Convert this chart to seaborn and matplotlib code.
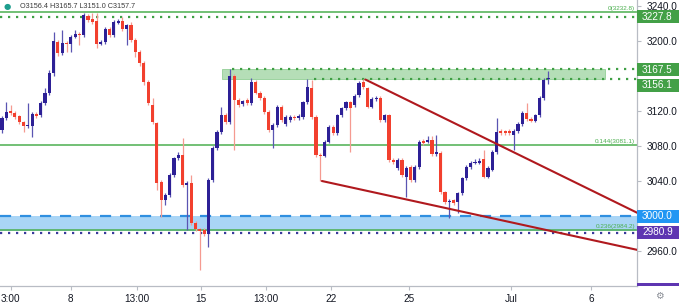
import matplotlib
matplotlib.use("Agg")
import matplotlib.pyplot as plt
import seaborn as sns
import numpy as np
import pandas as pd
from matplotlib.patches import Rectangle

# ---------------- data ----------------
opens = [3098, 3112, 3120, 3118, 3114, 3107, 3103, 3103, 3117, 3115,
         3129, 3141, 3163, 3199, 3186, 3198, 3197, 3205, 3208, 3207,
         3229, 3225, 3223, 3197, 3199, 3214, 3207, 3221, 3223, 3214,
         3218, 3201, 3187, 3175, 3153, 3127, 3106, 3039, 3018, 3024,
         3047, 3066, 3070, 3035, 3038, 2992, 2985, 2984, 2979, 3041,
         3078, 3096, 3115, 3107, 3160, 3133, 3128, 3133, 3129, 3153,
         3141, 3135, 3119, 3098, 3104, 3125, 3105, 3110, 3113, 3112,
         3113, 3130, 3146, 3113, 3070, 3069, 3085, 3102, 3095, 3115,
         3123, 3130, 3127, 3138, 3153, 3146, 3125, 3134, 3135, 3110,
         3115, 3064, 3055, 3064, 3045, 3056, 3041, 3056, 3086, 3085,
         3087, 3071, 3072, 3027, 3016, 3018, 3016, 3026, 3043, 3056,
         3061, 3061, 3065, 3045, 3053, 3073, 3097, 3097, 3097, 3093,
         3097, 3105, 3118, 3111, 3109, 3115, 3135, 3156.4]
closes = [3112, 3119, 3118, 3113, 3107, 3103, 3104, 3117, 3114, 3129,
          3141, 3163, 3200, 3186, 3198, 3197, 3205, 3208, 3207, 3230,
          3224, 3222, 3197, 3199, 3214, 3207, 3222, 3223, 3214, 3218,
          3201, 3187, 3175, 3153, 3129, 3107, 3038, 3018, 3024, 3047,
          3066, 3070, 3035, 3038, 2992, 2985, 2983, 2979, 3041, 3078,
          3096, 3115, 3107, 3160, 3133, 3127, 3131, 3129, 3153, 3141,
          3135, 3119, 3098, 3104, 3125, 3110, 3113, 3113, 3112, 3114,
          3130, 3147, 3113, 3070, 3069, 3085, 3102, 3095, 3115, 3123,
          3130, 3123, 3137, 3152, 3147, 3125, 3134, 3135, 3110, 3115,
          3064, 3062, 3064, 3047, 3055, 3041, 3056, 3085, 3083, 3087,
          3071, 3073, 3027, 3016, 3017, 3015, 3026, 3043, 3056, 3061,
          3062, 3063, 3045, 3055, 3073, 3096, 3095, 3095, 3095, 3097,
          3105, 3118, 3111, 3109, 3115, 3135, 3156, 3157.7]
highs = [3114, 3130, 3127, 3120, 3116, 3109, 3129, 3119, 3119, 3131,
         3146, 3167, 3210, 3201, 3213, 3200, 3207, 3213, 3210, 3232,
         3231, 3232, 3232, 3201, 3216, 3216, 3224, 3225, 3227, 3220,
         3222, 3203, 3190, 3177, 3155, 3135, 3108, 3041, 3026, 3049,
         3068, 3073, 3089, 3040, 3047, 2994, 2986, 2986, 3043, 3080,
         3098, 3125, 3118, 3168, 3162, 3135, 3133, 3135, 3158, 3155,
         3143, 3137, 3121, 3106, 3127, 3127, 3115, 3115, 3115, 3117,
         3132, 3157, 3155, 3115, 3072, 3087, 3104, 3104, 3117, 3125,
         3132, 3132, 3139, 3154, 3157, 3148, 3136, 3137, 3137, 3117,
         3117, 3066, 3066, 3066, 3057, 3058, 3058, 3087, 3088, 3092,
         3091, 3093, 3074, 3029, 3019, 3020, 3028, 3045, 3058, 3063,
         3065, 3066, 3075, 3057, 3075, 3112, 3099, 3098, 3099, 3099,
         3107, 3120, 3129, 3113, 3117, 3137, 3158, 3165.7]
lows = [3095, 3110, 3116, 3111, 3105, 3096, 3101, 3090, 3112, 3113,
        3127, 3138, 3160, 3183, 3184, 3187, 3187, 3203, 3195, 3205,
        3222, 3220, 3192, 3195, 3197, 3205, 3205, 3219, 3212, 3195,
        3199, 3182, 3172, 3150, 3127, 3105, 3030, 2999, 3013, 3022,
        3045, 3064, 3033, 2984, 2990, 2983, 2938, 2977, 2965, 3039,
        3076, 3094, 3105, 3105, 3075, 3125, 3126, 3127, 3127, 3139,
        3133, 3117, 3096, 3078, 3102, 3108, 3103, 3108, 3110, 3110,
        3111, 3128, 3111, 3068, 3040, 3067, 3083, 3093, 3093, 3113,
        3121, 3073, 3125, 3136, 3145, 3123, 3123, 3132, 3108, 3108,
        3062, 3060, 3053, 3045, 3022, 3039, 3039, 3054, 3081, 3083,
        3069, 3069, 3025, 3014, 2998, 3013, 3003, 3024, 3041, 3054,
        3059, 3059, 3043, 3043, 3051, 3071, 3093, 3093, 3093, 3075,
        3095, 3103, 3109, 3107, 3107, 3113, 3133, 3151.0]

xtick_pos = [2.0, 16, 31.4, 46.3, 61.4, 76.5, 94.7, 118.4, 137]
xtick_labels = ["3:00", "8", "13:00", "15", "13:00", "22", "25", "Jul", "6"]
ytick_vals = [2960, 3040, 3080, 3120, 3200, 3240]

fib_levels = [3232.8, 3081.1, 2984.2]
fib_labels = ["0(3232.8)", "0.144(3081.1)", "0.236(2984.2)"]
resist_top, resist_bot = 3167.5, 3156.1
resist_start = 51.2
resist_end = 140.2
support_top, support_bot = 3000.0, 2982.5
dotted_high = 3227.8
dotted_low = 2980.9
trend_upper_x = [84.5, 148.0]
trend_upper_y = [3156, 3003]
trend_lower_x = [74.4, 148.0]
trend_lower_y = [3040, 2961]
header = "O3156.4 H3165.7 L3151.0 C3157.7"

# ---------------- style ----------------
sns.set_theme(style="white")
plt.rcParams['font.family'] = ['Liberation Sans', 'DejaVu Sans']

W, H = 679, 305
fig = plt.figure(figsize=(W / 100, H / 100), dpi=100)
fig.patch.set_facecolor("white")
ax = fig.add_axes([0, 19 / H, 637 / W, 286 / H])
ax.set_facecolor("white")

XMIN, XMAX = -0.465, 147.67
YMIN, YMAX = 2920, 3246.9
ax.set_xlim(XMIN, XMAX)
ax.set_ylim(YMIN, YMAX)

UP = "#2d2096"
DOWN = "#f2402e"
GREEN = "#4caf50"

# zones
ax.axhspan(support_bot, support_top, color="#a9d5f6", lw=0, zorder=1)
ax.add_patch(Rectangle((resist_start, resist_bot), resist_end - resist_start,
                       resist_top - resist_bot, fc="#b5deb7", ec="#93cf96",
                       lw=0.6, zorder=1))

# level lines
for lv in fib_levels:
    ax.axhline(lv, color=GREEN, lw=1.1, zorder=2)
ax.axhline(dotted_high, color="#3f9f45", lw=1.6, ls=(0, (1.0, 2.6)), zorder=2)
ax.plot([resist_start + 2.3, XMAX], [resist_top, resist_top], color="#3f9f45",
        lw=1.6, ls=(0, (1.0, 2.6)), zorder=2)
ax.plot([72.5, XMAX], [resist_bot, resist_bot], color="#3f9f45",
        lw=1.6, ls=(0, (1.0, 2.6)), zorder=2)
ax.axhline(support_top, color="#2f8fe0", lw=1.6, ls=(0, (5, 4)), zorder=2)
ax.axhline(dotted_low, color="#3a3a9c", lw=1.6, ls=(0, (1.0, 2.6)), zorder=2)

# fib labels
for lv, lab in zip(fib_levels, fib_labels):
    ax.text(147.2, lv + 1.0, lab, fontsize=4.6, color=GREEN, ha="right",
            va="bottom", zorder=6)

# candles
df = pd.DataFrame({"idx": np.arange(len(opens)), "open": opens, "high": highs,
                   "low": lows, "close": closes})
df["up"] = df["close"] >= df["open"]
for up, col, wcol in [(True, UP, "#5a55b2"), (False, DOWN, "#f59a90")]:
    d = df[df["up"] == up]
    ax.vlines(d["idx"], d["low"], d["high"], color=wcol, lw=0.9, zorder=3)
    lo = np.minimum(d["open"], d["close"])
    hgt = np.maximum(np.abs(d["close"] - d["open"]), 1.1)
    ax.bar(d["idx"], hgt, bottom=lo, width=0.74, color=col, lw=0, zorder=4)

# trend lines
sns.lineplot(x=trend_upper_x, y=trend_upper_y, ax=ax, color="#b0191e", lw=1.5,
             zorder=5)
sns.lineplot(x=trend_lower_x, y=trend_lower_y, ax=ax, color="#b0191e", lw=1.5,
             zorder=5)

# axes cosmetics
for s in ["top", "left"]:
    ax.spines[s].set_visible(False)
for s in ["right", "bottom"]:
    ax.spines[s].set_visible(True)
    ax.spines[s].set_color("#b8bcc4")
    ax.spines[s].set_linewidth(0.9)
ax.yaxis.tick_right()
ax.set_yticks(ytick_vals)
ax.set_yticklabels([f"{v:.1f}" for v in ytick_vals])
ax.set_xticks(xtick_pos)
ax.set_xticklabels(xtick_labels)
ax.tick_params(axis="both", which="both", length=3, width=0.8, color="#b8bcc4",
               labelsize=7.2, labelcolor="#131722")
ax.tick_params(axis="y", pad=4, right=True, left=False)
ax.tick_params(axis="x", pad=3, bottom=True)
ax.grid(False)
ax.set_xlabel("")
ax.set_ylabel("")
if ax.get_legend():
    ax.get_legend().remove()

# price boxes on the right axis
yt = ax.get_yaxis_transform()
bw = 42 / 637
bh = 13 / 0.875


def price_box(center, text, color):
    ax.add_patch(Rectangle((1.0, center - bh / 2), bw, bh, transform=yt,
                           fc=color, ec="none", clip_on=False, zorder=7))
    ax.text(1.0 + 5 / 637, center, text, transform=yt, color="white",
            fontsize=7.2, ha="left", va="center", clip_on=False, zorder=8)


price_box(dotted_high, f"{dotted_high:.1f}", "#43a047")
price_box(resist_top - 0.6, f"{resist_top:.1f}", "#43a047")
price_box(3149.2, f"{resist_bot:.1f}", "#43a047")
price_box(support_top, f"{support_top:.1f}", "#2196f3")
price_box(dotted_low + 0.5, f"{dotted_low:.1f}", "#5e35b1")
ax.add_patch(Rectangle((1.0, 2920), bw, 3.4, transform=yt, fc="#5e35b1",
                       ec="none", clip_on=False, zorder=7))

# header and icons
fig.text(7 / W, 1 - 6 / H, "\u25CF", color="#1e9e8e", fontsize=6, ha="center",
         va="center", family="DejaVu Sans")
fig.text(20 / W, 1 - 6.5 / H, header, color="#3a3a3a", fontsize=5.2, ha="left",
         va="center")
fig.text(659 / W, 1 - 296 / H, "\u2699", color="#8a8e96", fontsize=7,
         ha="center", va="center", family="DejaVu Sans")

fig.savefig("out.png", dpi=100, facecolor="white")
